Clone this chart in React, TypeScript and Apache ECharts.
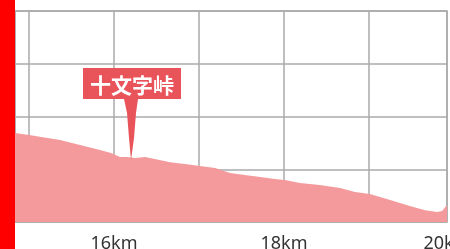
import React, { useEffect, useRef } from "react";
import * as echarts from "echarts";

const distanceKm = [14.835, 15.0, 15.365, 15.6, 15.835, 15.965, 16.07, 16.153, 16.247, 16.365, 16.48, 16.66, 16.835, 17.01, 17.19, 17.365, 17.54, 17.72, 17.89, 18.01, 18.19, 18.42, 18.66, 18.835, 19.01, 19.25, 19.48, 19.66, 19.8, 19.86, 19.918];
const elevation = [2137, 2130, 2111, 2092, 2073, 2062, 2046, 2046, 2043, 2046, 2039, 2027, 2020, 2012, 2005, 1986, 1978, 1971, 1963, 1959, 1948, 1940, 1929, 1914, 1906, 1883, 1861, 1845, 1838, 1842, 1864];
const passName = "十文字峠";
const passKm = 16.2;
const passElevation = 2035;
const xMin = 14.835;
const xMax = 19.918;

export default function App() {
  const ref = useRef<HTMLDivElement>(null);
  useEffect(() => {
    if (!ref.current) return;
    const chart = echarts.init(ref.current, null, { renderer: "svg" });
    const data = distanceKm.map((d, i) => [d, elevation[i]]);
    chart.setOption({
      animation: false,
      grid: {
        left: 15,
        right: 3,
        top: 11,
        bottom: 27,
        show: true,
        borderColor: "#aaaaaa",
        borderWidth: 1.5,
        containLabel: false,
        outerBoundsMode: "none",
      },
      xAxis: {
        type: "value",
        min: xMin,
        max: xMax,
        axisLine: { show: false },
        axisTick: { show: false },
        splitLine: { show: true, lineStyle: { color: "#aaaaaa", width: 1.5 } },
        axisLabel: {
          color: "#333333",
          fontSize: 18,
          fontFamily: "Noto Sans",
          margin: 11,
          showMaxLabel: true,
          formatter: (v: number) => {
            const r = Math.round(v);
            return r % 2 === 0 ? r + "km" : "";
          },
        },
      },
      yAxis: {
        type: "value",
        min: 1800,
        max: 2600,
        interval: 200,
        axisLine: { show: false },
        axisTick: { show: false },
        axisLabel: { show: false },
        splitLine: { show: true, lineStyle: { color: "#aaaaaa", width: 1.5 } },
      },
      series: [
        {
          type: "line",
          data,
          showSymbol: false,
          symbol: "none",
          lineStyle: { width: 0 },
          areaStyle: { color: "#f49a9c", opacity: 1 },
          markPoint: {
            data: [
              {
                coord: [passKm, passElevation],
                symbol:
                  "path://M0 0 H98 V31 H55 L53 45 L51 70 L48 92 L46 70 L44 45 L41 31 H0 Z",
                symbolSize: [98, 92],
                symbolOffset: [1, -46],
                itemStyle: { color: "#e8545a" },
                label: {
                  show: true,
                  position: "inside",
                  offset: [0, -30],
                  formatter: passName,
                  color: "#ffffff",
                  fontSize: 21,
                  fontWeight: "bold",
                  fontFamily: "Noto Sans CJK JP",
                },
              },
            ],
          },
        },
      ],
      graphic: [
        {
          type: "rect",
          left: 0,
          top: 0,
          shape: { x: 0, y: 0, width: 15, height: 249 },
          style: { fill: "#ff0000" },
          z: 100,
        },
      ],
    });
    return () => chart.dispose();
  }, []);
  return (
    <div
      ref={ref}
      style={{ position: "fixed", left: 0, top: 0, width: 450, height: 249 }}
    />
  );
}
